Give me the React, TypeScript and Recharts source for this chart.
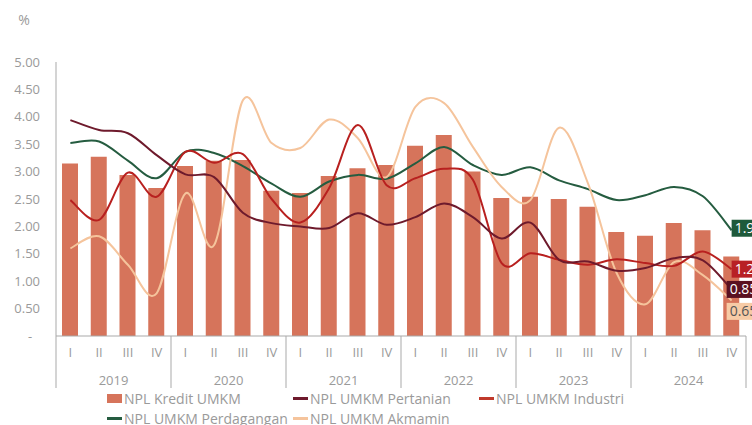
import { ComposedChart, Bar, Line, XAxis, YAxis, Legend, LabelList } from 'recharts'

const years = ['2019', '2020', '2021', '2022', '2023', '2024']
const quarters = ['I', 'II', 'III', 'IV']
const yTicks = [0, 0.5, 1, 1.5, 2, 2.5, 3, 3.5, 4, 4.5, 5]

// NPL values, % (2019 I .. 2024 IV)
const kredit = [3.15, 3.27, 2.94, 2.7, 3.1, 3.2, 3.21, 2.65, 2.61, 2.92, 3.06, 3.12, 3.47, 3.67, 3.0, 2.52, 2.54, 2.5, 2.36, 1.9, 1.83, 2.06, 1.93, 1.45]
const pertanian = [3.94, 3.76, 3.7, 3.3, 2.95, 2.9, 2.25, 2.06, 2.0, 1.97, 2.24, 2.03, 2.17, 2.42, 2.17, 1.78, 2.07, 1.39, 1.36, 1.19, 1.24, 1.42, 1.38, 0.85]
const industri = [2.48, 2.12, 2.98, 2.54, 3.36, 3.16, 3.32, 2.5, 2.07, 2.7, 3.85, 2.75, 2.88, 3.05, 2.85, 1.33, 1.51, 1.39, 1.3, 1.4, 1.33, 1.28, 1.54, 1.22]
const perdagangan = [3.52, 3.55, 3.2, 2.88, 3.36, 3.34, 3.1, 2.78, 2.54, 2.82, 2.94, 2.87, 3.15, 3.45, 3.12, 2.94, 3.08, 2.84, 2.68, 2.48, 2.57, 2.72, 2.55, 1.93]
const akmamin = [1.6, 1.82, 1.3, 0.78, 2.6, 1.66, 4.3, 3.52, 3.43, 3.95, 3.61, 2.9, 4.18, 4.25, 3.45, 2.72, 2.48, 3.8, 2.79, 1.15, 0.58, 1.35, 1.11, 0.65]

const data = years.flatMap((year, yi) =>
  quarters.map((quarter, qi) => {
    const i = yi * 4 + qi
    return {
      key: `${year} ${quarter}`,
      year,
      quarter,
      kredit: kredit[i],
      pertanian: pertanian[i],
      industri: industri[i],
      perdagangan: perdagangan[i],
      akmamin: akmamin[i],
    }
  })
)

const GRAY = '#9a9a9a'
const AXIS = '#a9a9a9'
const FONT = '"Open Sans", sans-serif'

// Excel-like smoothed line (catmull-rom through the points)
const smoothCurve = (context: any) => {
  let pts: number[][] = []
  return {
    areaStart() {},
    areaEnd() {},
    lineStart() {
      pts = []
    },
    lineEnd() {
      const n = pts.length
      if (!n) return
      context.moveTo(pts[0][0], pts[0][1])
      for (let i = 0; i < n - 1; i++) {
        const p0 = pts[Math.max(i - 1, 0)]
        const p1 = pts[i]
        const p2 = pts[i + 1]
        const p3 = pts[Math.min(i + 2, n - 1)]
        context.bezierCurveTo(
          p1[0] + (p2[0] - p0[0]) / 6,
          p1[1] + (p2[1] - p0[1]) / 6,
          p2[0] - (p3[0] - p1[0]) / 6,
          p2[1] - (p3[1] - p1[1]) / 6,
          p2[0],
          p2[1]
        )
      }
    },
    point(x: number, y: number) {
      pts.push([+x, +y])
    },
  }
}

function YTick(props: any) {
  const { x, y, payload } = props
  if (payload.value === 0) {
    return (
      <text x={x - 26} y={y} dy="0.35em" textAnchor="middle" fontSize={13} fill={GRAY}>
        -
      </text>
    )
  }
  return (
    <text x={x - 16} y={y} dy="0.35em" textAnchor="end" fontSize={13} fill={GRAY}>
      {Number(payload.value).toFixed(2)}
    </text>
  )
}

function QuarterTick(props: any) {
  const { x, y, payload } = props
  const i = payload?.index ?? props.index
  const half = payload?.offset || 14.375
  const d = data[i]
  if (!d) return null
  return (
    <g>
      <text x={x} y={y + 21} textAnchor="middle" fontSize={13} fill={GRAY}>
        {d.quarter}
      </text>
      {i % 4 === 0 && <line x1={x - half} x2={x - half} y1={y} y2={y + 52} stroke={AXIS} />}
      {i % 4 === 1 && (
        <text x={x + half} y={y + 49} textAnchor="middle" fontSize={13} fill={GRAY}>
          {d.year}
        </text>
      )}
      {i === data.length - 1 && <line x1={x + half} x2={x + half} y1={y} y2={y + 52} stroke={AXIS} />}
    </g>
  )
}

const endLabel = (fill: string, color: string, dx: number, dy: number) => (props: any) => {
  const { x, y, index, value } = props
  if (index !== data.length - 1) return null
  return (
    <g>
      <rect x={x + dx} y={y + dy - 8.5} width={46} height={17} fill={fill} />
      <text x={x + dx + 3} y={y + dy + 5} fontSize={14} fill={color}>
        {Number(value).toFixed(2)}
      </text>
    </g>
  )
}

const legendRows = [
  [
    { name: 'NPL Kredit UMKM', color: '#d6745b', bar: true },
    { name: 'NPL UMKM Pertanian', color: '#6e1a2c' },
    { name: 'NPL UMKM Industri', color: '#c0392b' },
  ],
  [
    { name: 'NPL UMKM Perdagangan', color: '#255c40' },
    { name: 'NPL UMKM Akmamin', color: '#f5c49c' },
  ],
]

function LegendContent() {
  return (
    <div style={{ height: 37, paddingLeft: 107, fontSize: 14, color: GRAY, fontFamily: FONT }}>
      {legendRows.map((row, r) => (
        <div key={r} style={{ display: 'flex', height: 20, alignItems: 'center' }}>
          {row.map((item) => (
            <div key={item.name} style={{ width: 186, display: 'flex', alignItems: 'center', whiteSpace: 'nowrap' }}>
              <span
                style={{
                  display: 'inline-block',
                  width: 15,
                  height: item.bar ? 9 : 3,
                  background: item.color,
                  marginRight: 2,
                }}
              />
              {item.name}
            </div>
          ))}
        </div>
      ))}
    </div>
  )
}

export default function App() {
  return (
    <div style={{ position: 'absolute', left: 0, top: 0, width: 752, height: 425, background: '#fff', fontFamily: FONT }}>
      <ComposedChart width={752} height={425} data={data} margin={{ top: 62, right: 6, left: 0, bottom: 0 }}>
        <YAxis
          width={56}
          domain={[0, 5]}
          ticks={yTicks}
          interval={0}
          tick={<YTick />}
          tickLine={false}
          tickSize={0}
          tickMargin={0}
          axisLine={{ stroke: AXIS }}
          label={{
            content: (p: any) => (
              <text x={24} y={(p.viewBox?.y ?? 62) - 37} fontSize={14} fill={GRAY} textAnchor="middle">
                %
              </text>
            ),
          }}
        />
        <XAxis
          dataKey="key"
          height={52}
          interval={0}
          tick={<QuarterTick />}
          tickLine={false}
          tickSize={0}
          tickMargin={0}
          axisLine={{ stroke: AXIS }}
        />
        <Legend verticalAlign="bottom" height={37} wrapperStyle={{ left: 0, width: 752 }} content={<LegendContent />} />
        <Bar dataKey="kredit" name="NPL Kredit UMKM" fill="#d6745b" barSize={16} isAnimationActive={false} />
        <Line dataKey="perdagangan" name="NPL UMKM Perdagangan" type={smoothCurve as any} stroke="#255c40" strokeWidth={2} dot={false} activeDot={false} isAnimationActive={false}>
          <LabelList dataKey="perdagangan" content={endLabel('#1e5a3b', '#ffffff', 0, -2)} />
        </Line>
        <Line dataKey="akmamin" name="NPL UMKM Akmamin" type={smoothCurve as any} stroke="#f5c49c" strokeWidth={2} dot={false} activeDot={false} isAnimationActive={false}>
          <LabelList dataKey="akmamin" content={endLabel('#f7cba6', '#555555', -5, 11)} />
        </Line>
        <Line dataKey="industri" name="NPL UMKM Industri" type={smoothCurve as any} stroke="#b8201f" strokeWidth={2} dot={false} activeDot={false} isAnimationActive={false}>
          <LabelList dataKey="industri" content={endLabel('#b82025', '#ffffff', 0, 0)} />
        </Line>
        <Line dataKey="pertanian" name="NPL UMKM Pertanian" type={smoothCurve as any} stroke="#6e1a2c" strokeWidth={2} dot={false} activeDot={false} isAnimationActive={false}>
          <LabelList dataKey="pertanian" content={endLabel('#5a1020', '#ffffff', -5, 0)} />
        </Line>
      </ComposedChart>
    </div>
  )
}
